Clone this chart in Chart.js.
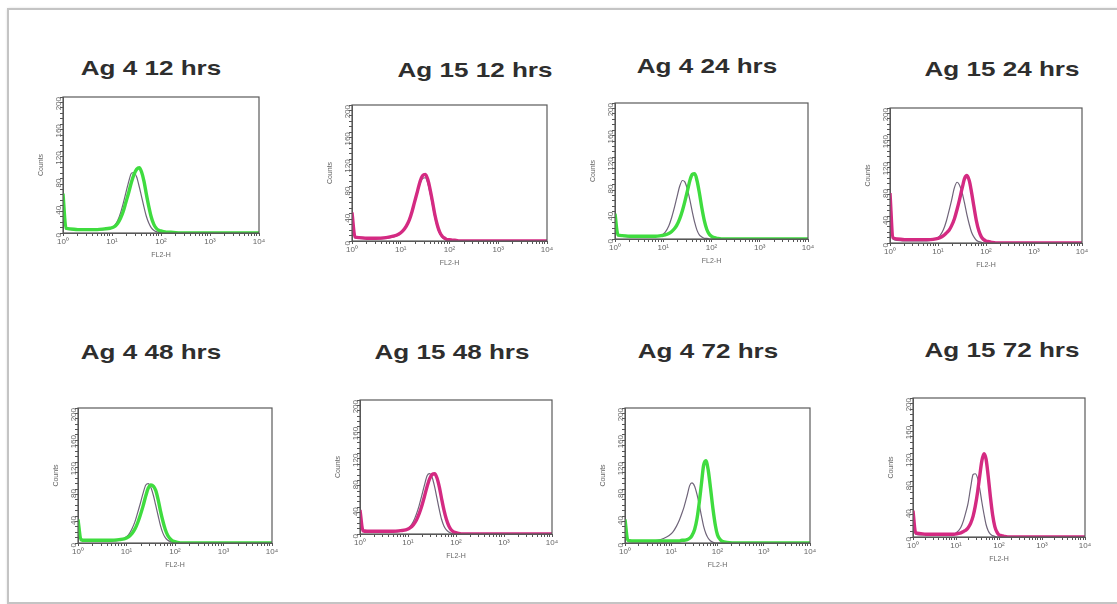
<!DOCTYPE html>
<html>
<head>
<meta charset="utf-8">
<script src="https://cdn.jsdelivr.net/npm/chart.js@4.4.1/dist/chart.umd.min.js"></script>
<style>
	html, body { margin: 0; padding: 0; background: #fff; }
	body { width: 1117px; height: 604px; position: relative; overflow: hidden; font-family: "Liberation Sans", Arial, sans-serif; }
	.frame { position: absolute; left: 7px; top: 8px; width: 1130px; height: 592px; border: 2px solid #c4c4c4; box-shadow: 1px 1px 3px rgba(0,0,0,0.25); }
	.ttl { position: absolute; font-size: 21px; font-weight: bold; color: #2e2e2e; white-space: nowrap; transform: translate(-50%, -50%) scaleX(1.24); }
	canvas { position: absolute; }
</style>
</head>
<body>
<div class="frame"></div>

<script>
// FL2-H channel positions shared by every histogram
const channels = [1, 1.15, 1.4, 2, 3, 5, 7, 9, 11, 13, 15, 17, 19, 22, 25, 28, 32, 36, 40, 45, 50, 56, 63, 71, 80, 90, 100, 115, 130, 160, 250, 1000, 10000];

const panelTitles = ['Ag 4 12 hrs', 'Ag 15 12 hrs', 'Ag 4 24 hrs', 'Ag 15 24 hrs', 'Ag 4 48 hrs', 'Ag 15 48 hrs', 'Ag 4 72 hrs', 'Ag 15 72 hrs'];
const xTickLabels = ['10⁰', '10¹', '10²', '10³', '10⁴'];
const yTickLabels = [0, 40, 80, 120, 160, 200];

// counts per channel: control (grey line) and stained sample (coloured line)
const ag4_12_control  = [55, 6, 5, 4, 4, 4, 5, 6, 10, 18, 30, 44, 58, 76, 88, 89, 82, 68, 54, 38, 25, 15, 8, 4, 2, 1, 1, 1, 0, 0, 0, 0, 0];
const ag4_12_stained  = [58, 7, 6, 5, 5, 5, 6, 7, 9, 14, 22, 32, 44, 60, 75, 86, 94, 96, 90, 76, 58, 40, 24, 13, 7, 4, 3, 2, 1, 1, 0, 0, 0];
const ag15_12_control = [40, 5, 4, 3, 3, 4, 6, 9, 14, 22, 32, 44, 56, 72, 85, 92, 93, 84, 70, 52, 35, 21, 11, 5, 3, 2, 1, 1, 0, 0, 0, 0, 0];
const ag15_12_stained = [42, 6, 5, 4, 4, 5, 7, 10, 15, 22, 31, 43, 56, 73, 88, 96, 98, 90, 76, 57, 39, 24, 13, 7, 4, 2, 2, 1, 1, 0, 0, 0, 0];
const ag4_24_control  = [37, 5, 4, 3, 3, 3, 4, 5, 10, 19, 32, 46, 60, 78, 86, 84, 72, 56, 40, 24, 13, 6, 3, 1, 1, 0, 0, 0, 0, 0, 0, 0, 0];
const ag4_24_stained  = [37, 6, 5, 4, 4, 4, 4, 5, 6, 8, 11, 15, 20, 30, 42, 55, 72, 87, 95, 96, 86, 68, 46, 27, 14, 7, 4, 2, 1, 0, 0, 0, 0];
const ag15_24_control = [74, 6, 4, 3, 3, 3, 4, 6, 11, 20, 33, 48, 62, 82, 90, 86, 74, 58, 42, 27, 16, 9, 4, 2, 1, 0, 0, 0, 0, 0, 0, 0, 0];
const ag15_24_stained = [74, 8, 6, 5, 5, 5, 5, 6, 8, 11, 15, 19, 25, 36, 50, 64, 82, 96, 100, 92, 75, 54, 33, 18, 9, 5, 3, 2, 1, 0, 0, 0, 0];
const ag4_48_control  = [35, 4, 3, 3, 3, 3, 4, 7, 12, 21, 32, 45, 57, 74, 86, 88, 82, 70, 56, 40, 26, 15, 8, 4, 2, 1, 0, 0, 0, 0, 0, 0, 0];
const ag4_48_stained  = [35, 5, 4, 4, 4, 4, 5, 6, 9, 14, 21, 30, 40, 55, 70, 81, 86, 84, 78, 64, 48, 33, 20, 11, 6, 3, 2, 1, 0, 0, 0, 0, 0];
const ag15_48_control = [36, 4, 3, 3, 3, 3, 4, 6, 11, 19, 30, 42, 55, 73, 87, 90, 84, 70, 54, 36, 22, 12, 6, 3, 1, 0, 0, 0, 0, 0, 0, 0, 0];
const ag15_48_stained = [36, 5, 4, 4, 4, 4, 5, 6, 9, 14, 21, 30, 40, 56, 71, 82, 89, 90, 84, 70, 53, 36, 22, 12, 6, 3, 2, 1, 0, 0, 0, 0, 0];
const ag4_72_control  = [35, 4, 3, 3, 3, 4, 7, 11, 17, 25, 34, 44, 54, 70, 85, 89, 84, 72, 58, 40, 25, 14, 7, 3, 1, 0, 0, 0, 0, 0, 0, 0, 0];
const ag4_72_stained  = [35, 4, 3, 3, 3, 3, 3, 3, 3, 3, 3, 4, 4, 5, 7, 11, 20, 36, 58, 88, 115, 122, 108, 80, 50, 26, 12, 5, 2, 1, 0, 0, 0];
const ag15_72_control = [38, 4, 3, 3, 3, 3, 3, 4, 8, 14, 24, 36, 48, 72, 90, 91, 84, 68, 50, 32, 18, 9, 4, 2, 1, 0, 0, 0, 0, 0, 0, 0, 0];
const ag15_72_stained = [38, 6, 5, 4, 4, 4, 4, 4, 5, 6, 8, 10, 13, 20, 30, 44, 66, 90, 110, 120, 112, 88, 58, 32, 15, 7, 3, 2, 1, 0, 0, 0, 0];

const GREEN = '#3fdc3f';
const MAGENTA = '#d42a82';
const CONTROL = '#6f6479';

// plot box of each panel on the page: [left, top, right, bottom]
const panels = [
	{ box: [63, 97, 259, 233], title: [151, 68], control: ag4_12_control, stained: ag4_12_stained, color: GREEN },
	{ box: [352, 105, 547, 241], title: [475, 70], control: ag15_12_control, stained: ag15_12_stained, color: MAGENTA },
	{ box: [615, 103, 808, 239], title: [707, 66], control: ag4_24_control, stained: ag4_24_stained, color: GREEN },
	{ box: [890, 108, 1082, 243], title: [1002, 69], control: ag15_24_control, stained: ag15_24_stained, color: MAGENTA },
	{ box: [78, 408, 272, 543], title: [151, 352], control: ag4_48_control, stained: ag4_48_stained, color: GREEN },
	{ box: [360, 400, 552, 534], title: [452, 352], control: ag15_48_control, stained: ag15_48_stained, color: MAGENTA },
	{ box: [625, 408, 810, 543], title: [708, 351], control: ag4_72_control, stained: ag4_72_stained, color: GREEN },
	{ box: [913, 398, 1085, 537], title: [1002, 350], control: ag15_72_control, stained: ag15_72_stained, color: MAGENTA }
];

const Y_W = 26, X_H = 26, PAD_T = 6, PAD_R = 8;

// frame around the plotting area
const boxPlugin = {
	id: 'box',
	afterDraw(chart) {
		const a = chart.chartArea, ctx = chart.ctx;
		ctx.save();
		ctx.strokeStyle = '#5a5a5a';
		ctx.lineWidth = 1.2;
		ctx.strokeRect(a.left, a.top, a.right - a.left, a.bottom - a.top);
		ctx.restore();
	}
};

function pts(values) {
	return channels.map((c, i) => ({ x: c, y: values[i] }));
}

function makePanel(p, i) {
	const [l, t, r, b] = p.box;
	const title = document.createElement('div');
	title.className = 'ttl';
	title.textContent = panelTitles[i];
	title.style.left = p.title[0] + 'px';
	title.style.top = p.title[1] + 'px';
	document.body.appendChild(title);

	const cv = document.createElement('canvas');
	cv.width = (r - l) + Y_W + PAD_R;
	cv.height = (b - t) + PAD_T + X_H;
	cv.style.left = (l - Y_W) + 'px';
	cv.style.top = (t - PAD_T) + 'px';
	document.body.appendChild(cv);

	const tickFont = { family: 'Liberation Sans, Arial', size: 8 };
	const titleFont = { family: 'Liberation Sans, Arial', size: 7 };

	new Chart(cv, {
		type: 'line',
		data: {
			datasets: [
				{ data: pts(p.stained), borderColor: p.color, borderWidth: 3.4, pointRadius: 0, cubicInterpolationMode: 'monotone', tension: 0.4 },
				{ data: pts(p.control), borderColor: CONTROL, borderWidth: 1.2, pointRadius: 0, cubicInterpolationMode: 'monotone', tension: 0.4 }
			]
		},
		options: {
			responsive: false,
			animation: false,
			devicePixelRatio: 1,
			layout: { padding: { top: PAD_T, right: PAD_R, left: 0, bottom: 0 } },
			plugins: { legend: { display: false }, tooltip: { enabled: false } },
			scales: {
				x: {
					type: 'logarithmic',
					min: 1,
					max: 10000,
					afterBuildTicks: s => {
						const ticks = [];
						for (let d = 0; d < 4; d++) {
							for (let m = 1; m < 10; m++) ticks.push({ value: m * Math.pow(10, d) });
						}
						ticks.push({ value: 10000 });
						s.ticks = ticks;
					},
					afterFit: s => { s.height = X_H; },
					ticks: {
						autoSkip: false,
						maxRotation: 0,
						minRotation: 0,
						padding: 1,
						color: '#666',
						font: tickFont,
						callback: v => {
							const e = Math.log10(v);
							return Math.abs(e - Math.round(e)) < 1e-9 ? xTickLabels[Math.round(e)] : '';
						}
					},
					grid: { drawOnChartArea: false, tickLength: 3, color: '#555' },
					border: { color: '#555' },
					title: { display: true, text: 'FL2-H', color: '#666', font: titleFont, padding: 0 }
				},
				y: {
					min: 0,
					max: 200,
					afterBuildTicks: s => {
						const ticks = [];
						for (let v = 0; v <= 200; v += 8) ticks.push({ value: v });
						s.ticks = ticks;
					},
					afterFit: s => { s.width = Y_W; },
					ticks: {
						autoSkip: false,
						minRotation: 90,
						maxRotation: 90,
						padding: 1,
						color: '#666',
						font: tickFont,
						callback: v => yTickLabels.includes(v) ? String(v) : ''
					},
					grid: { drawOnChartArea: false, tickLength: 3, color: '#555' },
					border: { color: '#555' },
					title: { display: true, text: 'Counts', color: '#666', font: titleFont, padding: 0 }
				}
			}
		},
		plugins: [boxPlugin]
	});
}

panels.forEach(makePanel);
</script>
</body>
</html>
